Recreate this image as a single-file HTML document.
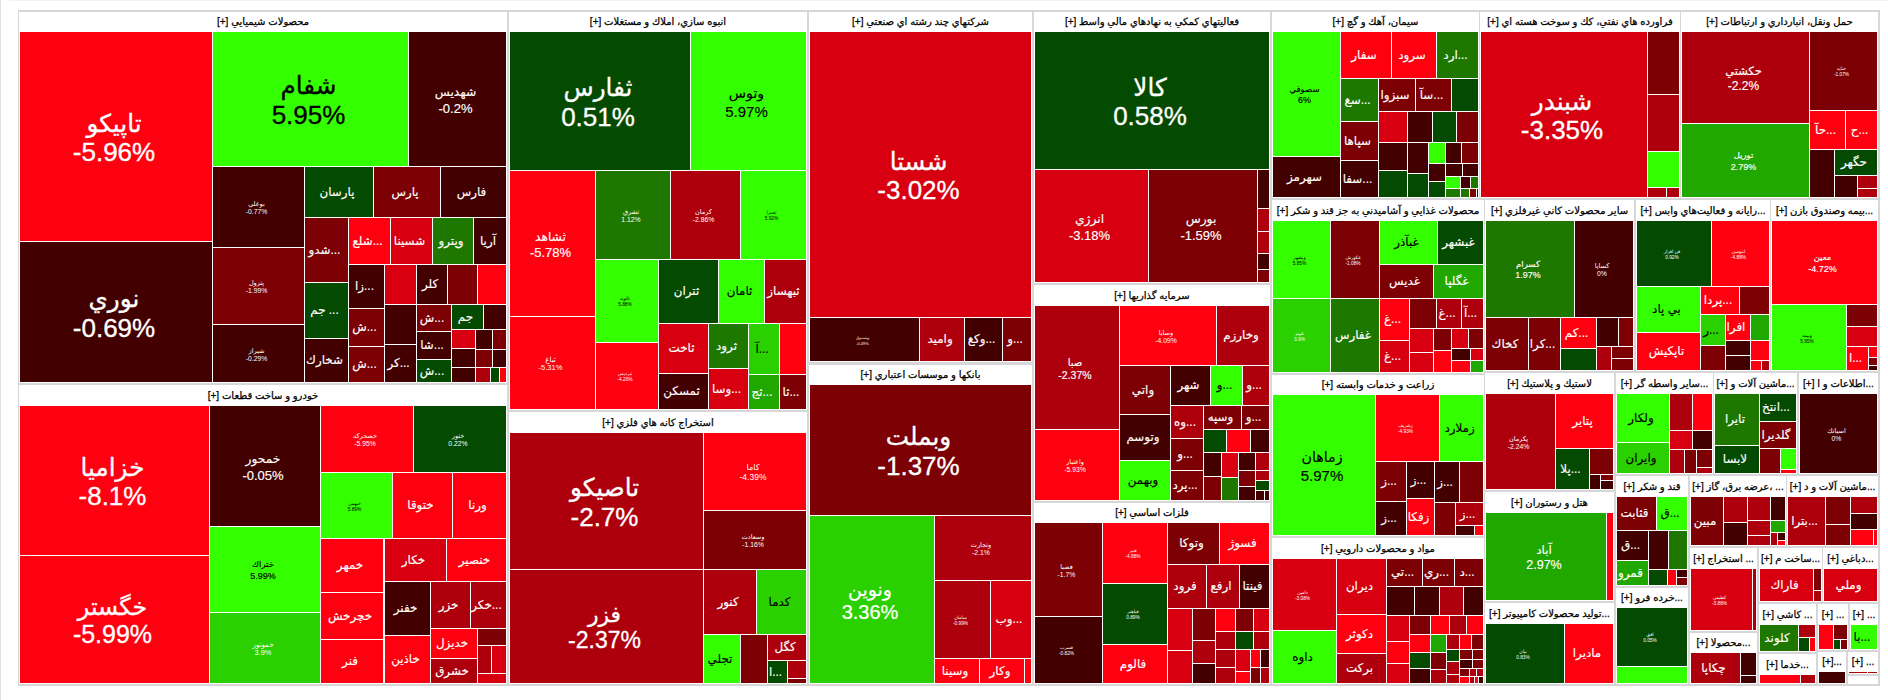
<!DOCTYPE html>
<html lang="fa"><head><meta charset="utf-8"><title>نقشه بازار</title>
<style>
html,body{margin:0;padding:0;background:#fff;}
body{width:1888px;height:700px;overflow:hidden;position:relative;font-family:"Liberation Sans","DejaVu Sans",sans-serif;}
#topbar{position:absolute;left:9px;top:0;width:1879px;height:1px;background:#eef3f9;}
#lbar{position:absolute;left:0;top:0;width:1px;height:700px;background:#e2e2e2;}
#frame{position:absolute;left:18px;top:10px;width:1862px;height:676px;background:#d7d7d7;}
.g{position:absolute;background:#fff;}
.h{position:absolute;height:20px;line-height:20px;text-align:center;direction:ltr;color:#000;-webkit-text-stroke:0.25px #000;white-space:nowrap;overflow:hidden;}
.c{position:absolute;display:flex;align-items:center;justify-content:center;text-align:center;overflow:hidden;line-height:1.15;white-space:nowrap;direction:ltr;}
.c span{display:inline-block;}
.c>div{margin-right:4px;}
.c>div.t2{margin-top:2px;}
.p{direction:ltr;}
</style></head><body>
<div id="topbar"></div><div id="lbar"></div><div id="frame"></div>

<div class="g" style="left:19px;top:12px;width:488px;height:371px"></div><div class="h" style="left:19px;top:12px;width:488px;height:20px;line-height:20px;font-size:10px">[+] محصولات شيميايي</div>
<div class="g" style="left:19px;top:385px;width:488px;height:299px"></div><div class="h" style="left:19px;top:385px;width:488px;height:21px;line-height:21px;font-size:10px">[+] خودرو و ساخت قطعات</div>
<div class="g" style="left:509px;top:12px;width:298px;height:398px"></div><div class="h" style="left:509px;top:12px;width:298px;height:20px;line-height:20px;font-size:10px">[+] انبوه سازي، املاك و مستغلات</div>
<div class="g" style="left:509px;top:412px;width:298px;height:272px"></div><div class="h" style="left:509px;top:412px;width:298px;height:21px;line-height:21px;font-size:10px">[+] استخراج كانه هاي فلزي</div>
<div class="g" style="left:809px;top:12px;width:223px;height:350px"></div><div class="h" style="left:809px;top:12px;width:223px;height:20px;line-height:20px;font-size:10px">[+] شركتهاي چند رشته اي صنعتي</div>
<div class="g" style="left:809px;top:365px;width:223px;height:319px"></div><div class="h" style="left:809px;top:365px;width:223px;height:20px;line-height:20px;font-size:10px">[+] بانكها و موسسات اعتباري</div>
<div class="g" style="left:1034px;top:12px;width:236px;height:271px"></div><div class="h" style="left:1034px;top:12px;width:236px;height:20px;line-height:20px;font-size:10px">[+] فعاليتهاي كمكي به نهادهاي مالي واسط</div>
<div class="g" style="left:1034px;top:285px;width:236px;height:216px"></div><div class="h" style="left:1034px;top:285px;width:236px;height:21px;line-height:21px;font-size:10px">[+] سرمايه گذاريها</div>
<div class="g" style="left:1034px;top:503px;width:236px;height:181px"></div><div class="h" style="left:1034px;top:503px;width:236px;height:20px;line-height:20px;font-size:10px">[+] فلزات اساسي</div>
<div class="g" style="left:1272px;top:12px;width:207px;height:186px"></div><div class="h" style="left:1272px;top:12px;width:207px;height:20px;line-height:20px;font-size:10px">[+] سيمان، آهك و گچ</div>
<div class="g" style="left:1480px;top:12px;width:200px;height:186px"></div><div class="h" style="left:1480px;top:12px;width:200px;height:20px;line-height:20px;font-size:10px">[+] فراورده هاي نفتي، كك و سوخت هسته اي</div>
<div class="g" style="left:1681px;top:12px;width:197px;height:186px"></div><div class="h" style="left:1681px;top:12px;width:197px;height:20px;line-height:20px;font-size:10px">[+] حمل ونقل، انبارداري و ارتباطات</div>
<div class="g" style="left:1272px;top:200px;width:212px;height:173px"></div><div class="h" style="left:1272px;top:200px;width:212px;height:21px;line-height:21px;font-size:10px">[+] محصولات غذايي و آشاميدني به جز قند و شكر</div>
<div class="g" style="left:1485px;top:200px;width:149px;height:171px"></div><div class="h" style="left:1485px;top:200px;width:149px;height:21px;line-height:21px;font-size:10px">[+] ساير محصولات كاني غيرفلزي</div>
<div class="g" style="left:1636px;top:200px;width:134px;height:171px"></div><div class="h" style="left:1636px;top:200px;width:134px;height:21px;line-height:21px;font-size:10px">[+] رايانه و فعاليت‌هاي وابس...</div>
<div class="g" style="left:1771px;top:200px;width:107px;height:171px"></div><div class="h" style="left:1771px;top:200px;width:107px;height:21px;line-height:21px;font-size:10px">[+] بيمه وصندوق بازن...</div>
<div class="g" style="left:1272px;top:375px;width:212px;height:161px"></div><div class="h" style="left:1272px;top:375px;width:212px;height:20px;line-height:20px;font-size:10px">[+] زراعت و خدمات وابسته</div>
<div class="g" style="left:1485px;top:373px;width:129px;height:117px"></div><div class="h" style="left:1485px;top:373px;width:129px;height:21px;line-height:21px;font-size:10px">[+] لاستيك و پلاستيك</div>
<div class="g" style="left:1616px;top:373px;width:97px;height:101px"></div><div class="h" style="left:1616px;top:373px;width:97px;height:21px;line-height:21px;font-size:10px">[+] ساير واسطه گر...</div>
<div class="g" style="left:1714px;top:373px;width:83px;height:101px"></div><div class="h" style="left:1714px;top:373px;width:83px;height:21px;line-height:21px;font-size:10px">[+] ماشين آلات و...</div>
<div class="g" style="left:1799px;top:373px;width:79px;height:101px"></div><div class="h" style="left:1799px;top:373px;width:79px;height:21px;line-height:21px;font-size:10px">[+] اطلاعات و ا...</div>
<div class="g" style="left:1272px;top:538px;width:212px;height:146px"></div><div class="h" style="left:1272px;top:538px;width:212px;height:21px;line-height:21px;font-size:10px">[+] مواد و محصولات دارويي</div>
<div class="g" style="left:1485px;top:492px;width:129px;height:109px"></div><div class="h" style="left:1485px;top:492px;width:129px;height:21px;line-height:21px;font-size:10px">[+] هتل و رستوران</div>
<div class="g" style="left:1616px;top:476px;width:72px;height:110px"></div><div class="h" style="left:1616px;top:476px;width:72px;height:21px;line-height:21px;font-size:10px">[+] قند و شكر</div>
<div class="g" style="left:1690px;top:476px;width:96px;height:70px"></div><div class="h" style="left:1690px;top:476px;width:96px;height:21px;line-height:21px;font-size:10px">[+] عرضه برق، گاز، ...</div>
<div class="g" style="left:1485px;top:603px;width:129px;height:81px"></div><div class="h" style="left:1485px;top:603px;width:129px;height:21px;line-height:21px;font-size:10px">[+] توليد محصولات كامپيوتر...</div>
<div class="g" style="left:1616px;top:588px;width:72px;height:96px"></div><div class="h" style="left:1616px;top:588px;width:72px;height:20px;line-height:20px;font-size:10px">[+] خرده فرو...</div>
<div class="g" style="left:1787px;top:476px;width:91px;height:70px"></div><div class="h" style="left:1787px;top:476px;width:91px;height:21px;line-height:21px;font-size:10px">[+] ماشين آلات و د...</div>
<div class="g" style="left:1690px;top:548px;width:67px;height:83px"></div><div class="h" style="left:1690px;top:548px;width:67px;height:21px;line-height:21px;font-size:10px">[+] استخراج ...</div>
<div class="g" style="left:1759px;top:548px;width:63px;height:54px"></div><div class="h" style="left:1759px;top:548px;width:63px;height:21px;line-height:21px;font-size:10px">[+] ساخت م...</div>
<div class="g" style="left:1823px;top:548px;width:55px;height:54px"></div><div class="h" style="left:1823px;top:548px;width:55px;height:21px;line-height:21px;font-size:10px">[+] دباغي...</div>
<div class="g" style="left:1759px;top:604px;width:57px;height:48px"></div><div class="h" style="left:1759px;top:604px;width:57px;height:21px;line-height:21px;font-size:10px">[+] كاشي ...</div>
<div class="g" style="left:1818px;top:604px;width:30px;height:46px"></div><div class="h" style="left:1818px;top:604px;width:30px;height:21px;line-height:21px;font-size:10px">[+] ...</div>
<div class="g" style="left:1850px;top:604px;width:28px;height:46px"></div><div class="h" style="left:1850px;top:604px;width:28px;height:21px;line-height:21px;font-size:10px">[+] ...</div>
<div class="g" style="left:1690px;top:633px;width:67px;height:51px"></div><div class="h" style="left:1690px;top:633px;width:67px;height:20px;line-height:20px;font-size:10px">[+] محصولا...</div>
<div class="g" style="left:1759px;top:654px;width:57px;height:30px"></div><div class="h" style="left:1759px;top:654px;width:57px;height:21px;line-height:21px;font-size:10px">[+] خدما...</div>
<div class="g" style="left:1818px;top:652px;width:28px;height:32px"></div><div class="h" style="left:1818px;top:652px;width:28px;height:20px;line-height:20px;font-size:10px">[+]...</div>
<div class="g" style="left:1848px;top:652px;width:30px;height:22px"></div><div class="h" style="left:1848px;top:652px;width:30px;height:20px;line-height:20px;font-size:10px">[+] ...</div>
<div class="g" style="left:1848px;top:676px;width:30px;height:8px"></div><div class="h" style="left:1848px;top:676px;width:30px;height:20px;line-height:20px;font-size:10px"></div>
<div class="c" style="left:20px;top:32px;width:192px;height:209px;background:#ff0010;font-size:26px;color:#fff;line-height:28.5px;-webkit-text-stroke:0.31px #fff;"><div class="t2"><span class="s" style="font-size:24.7px">تاپيكو</span><br><span class="p">-5.96%</span></div></div>
<div class="c" style="left:20px;top:242px;width:192px;height:140px;background:#420000;font-size:26px;color:#fff;line-height:28.5px;-webkit-text-stroke:0.31px #fff;"><div class="t2"><span class="s" style="font-size:24.7px">نوري</span><br><span class="p">-0.69%</span></div></div>
<div class="c" style="left:213px;top:32px;width:195px;height:134px;background:#33ff00;font-size:26px;color:#000;line-height:28.5px;-webkit-text-stroke:0.31px #000;"><div class="t2"><span class="s" style="font-size:24.7px">شفام</span><br><span class="p">5.95%</span></div></div>
<div class="c" style="left:409px;top:32px;width:97px;height:134px;background:#420000;font-size:13px;color:#fff;line-height:15.5px;-webkit-text-stroke:0.15px #fff;"><div class="t2"><span class="s" style="font-size:12.3px">شهديس</span><br><span class="p">-0.2%</span></div></div>
<div class="c" style="left:213px;top:167px;width:91px;height:80px;background:#420000;font-size:6.8px;color:#fff;line-height:7.8px;"><div class="t2"><span class="s" style="font-size:6.5px">بوعلي</span><br><span class="p">-0.77%</span></div></div>
<div class="c" style="left:213px;top:248px;width:91px;height:76px;background:#7c0004;font-size:6.8px;color:#fff;line-height:7.8px;"><div class="t2"><span class="s" style="font-size:6.5px">پترول</span><br><span class="p">-1.99%</span></div></div>
<div class="c" style="left:213px;top:325px;width:91px;height:57px;background:#420000;font-size:6.8px;color:#fff;line-height:7.8px;"><div class="t2"><span class="s" style="font-size:6.5px">شيراز</span><br><span class="p">-0.29%</span></div></div>
<div class="c" style="left:305px;top:167px;width:68px;height:50px;background:#044a00;font-size:12.5px;color:#fff;line-height:15.0px;-webkit-text-stroke:0.15px #fff;"><div><span class="s" style="font-size:11.9px">پارسان</span></div></div>
<div class="c" style="left:374px;top:167px;width:66px;height:50px;background:#7c0004;font-size:12.5px;color:#fff;line-height:15.0px;-webkit-text-stroke:0.15px #fff;"><div><span class="s" style="font-size:11.9px">پارس</span></div></div>
<div class="c" style="left:441px;top:167px;width:65px;height:50px;background:#420000;font-size:12.5px;color:#fff;line-height:15.0px;-webkit-text-stroke:0.15px #fff;"><div><span class="s" style="font-size:11.9px">فارس</span></div></div>
<div class="c" style="left:305px;top:218px;width:43px;height:64px;background:#7c0004;font-size:12.5px;color:#fff;line-height:15.0px;-webkit-text-stroke:0.15px #fff;"><div><span class="s" style="font-size:11.9px">شدو...</span></div></div>
<div class="c" style="left:305px;top:283px;width:43px;height:55px;background:#044a00;font-size:12.5px;color:#fff;line-height:15.0px;-webkit-text-stroke:0.15px #fff;"><div><span class="s" style="font-size:11.9px">جم ...</span></div></div>
<div class="c" style="left:305px;top:339px;width:43px;height:43px;background:#420000;font-size:12.5px;color:#fff;line-height:15.0px;-webkit-text-stroke:0.15px #fff;"><div><span class="s" style="font-size:11.9px">شخارك</span></div></div>
<div class="c" style="left:349px;top:218px;width:41px;height:46px;background:#ff0010;font-size:12.5px;color:#fff;line-height:15.0px;-webkit-text-stroke:0.15px #fff;"><div><span class="s" style="font-size:11.9px">شلع...</span></div></div>
<div class="c" style="left:391px;top:218px;width:41px;height:46px;background:#d80010;font-size:12.5px;color:#fff;line-height:15.0px;-webkit-text-stroke:0.15px #fff;"><div><span class="s" style="font-size:11.9px">شسينا</span></div></div>
<div class="c" style="left:433px;top:218px;width:40px;height:46px;background:#1e7800;font-size:12.5px;color:#fff;line-height:15.0px;-webkit-text-stroke:0.15px #fff;"><div><span class="s" style="font-size:11.9px">وپترو</span></div></div>
<div class="c" style="left:474px;top:218px;width:32px;height:46px;background:#420000;font-size:12.5px;color:#fff;line-height:15.0px;-webkit-text-stroke:0.15px #fff;"><div><span class="s" style="font-size:11.9px">آريا</span></div></div>
<div class="c" style="left:349px;top:265px;width:35px;height:43px;background:#420000;font-size:12.5px;color:#fff;line-height:15.0px;-webkit-text-stroke:0.15px #fff;"><div><span class="s" style="font-size:11.9px">زا...</span></div></div>
<div class="c" style="left:385px;top:265px;width:31px;height:39px;background:#d80010;"></div>
<div class="c" style="left:417px;top:265px;width:30px;height:39px;background:#420000;font-size:12.5px;color:#fff;line-height:15.0px;-webkit-text-stroke:0.15px #fff;"><div><span class="s" style="font-size:11.9px">كلر</span></div></div>
<div class="c" style="left:448px;top:265px;width:29px;height:39px;background:#7c0004;"></div>
<div class="c" style="left:478px;top:265px;width:28px;height:39px;background:#ff0010;"></div>
<div class="c" style="left:349px;top:309px;width:35px;height:37px;background:#7c0004;font-size:12.5px;color:#fff;line-height:15.0px;-webkit-text-stroke:0.15px #fff;"><div><span class="s" style="font-size:11.9px">ش...</span></div></div>
<div class="c" style="left:349px;top:347px;width:35px;height:35px;background:#7c0004;font-size:12.5px;color:#fff;line-height:15.0px;-webkit-text-stroke:0.15px #fff;"><div><span class="s" style="font-size:11.9px">ش...</span></div></div>
<div class="c" style="left:385px;top:305px;width:31px;height:39px;background:#420000;"></div>
<div class="c" style="left:385px;top:345px;width:31px;height:37px;background:#420000;font-size:12.5px;color:#fff;line-height:15.0px;-webkit-text-stroke:0.15px #fff;"><div><span class="s" style="font-size:11.9px">كر...</span></div></div>
<div class="c" style="left:417px;top:305px;width:34px;height:26px;background:#7c0004;font-size:12.5px;color:#fff;line-height:15.0px;-webkit-text-stroke:0.15px #fff;"><div><span class="s" style="font-size:11.9px">ش...</span></div></div>
<div class="c" style="left:417px;top:332px;width:34px;height:27px;background:#420000;font-size:12.5px;color:#fff;line-height:15.0px;-webkit-text-stroke:0.15px #fff;"><div><span class="s" style="font-size:11.9px">شا...</span></div></div>
<div class="c" style="left:417px;top:360px;width:34px;height:22px;background:#044a00;font-size:12.5px;color:#fff;line-height:15.0px;-webkit-text-stroke:0.15px #fff;"><div><span class="s" style="font-size:11.9px">ش...</span></div></div>
<div class="c" style="left:452px;top:305px;width:31px;height:24px;background:#044a00;font-size:12.5px;color:#fff;line-height:15.0px;-webkit-text-stroke:0.15px #fff;"><div><span class="s" style="font-size:11.9px">جم</span></div></div>
<div class="c" style="left:484px;top:305px;width:22px;height:24px;background:#420000;"></div>
<div class="c" style="left:452px;top:330px;width:23px;height:18px;background:#d80010;"></div>
<div class="c" style="left:476px;top:330px;width:16px;height:19px;background:#420000;"></div>
<div class="c" style="left:493px;top:330px;width:13px;height:19px;background:#7c0004;"></div>
<div class="c" style="left:452px;top:349px;width:23px;height:18px;background:#420000;"></div>
<div class="c" style="left:476px;top:350px;width:16px;height:17px;background:#7c0004;"></div>
<div class="c" style="left:493px;top:350px;width:13px;height:17px;background:#420000;"></div>
<div class="c" style="left:452px;top:368px;width:23px;height:14px;background:#420000;"></div>
<div class="c" style="left:476px;top:368px;width:14px;height:14px;background:#ae000c;"></div>
<div class="c" style="left:491px;top:368px;width:8px;height:14px;background:#044a00;"></div>
<div class="c" style="left:500px;top:368px;width:6px;height:14px;background:#ff0010;"></div>
<div class="c" style="left:20px;top:406px;width:189px;height:149px;background:#ff0010;font-size:26px;color:#fff;line-height:28.5px;-webkit-text-stroke:0.31px #fff;"><div class="t2"><span class="s" style="font-size:24.7px">خزاميا</span><br><span class="p">-8.1%</span></div></div>
<div class="c" style="left:20px;top:556px;width:189px;height:127px;background:#ff0010;font-size:25px;color:#fff;line-height:27.5px;-webkit-text-stroke:0.30px #fff;"><div class="t2"><span class="s" style="font-size:23.8px">خگستر</span><br><span class="p">-5.99%</span></div></div>
<div class="c" style="left:210px;top:406px;width:110px;height:120px;background:#420000;font-size:13px;color:#fff;line-height:15.5px;-webkit-text-stroke:0.15px #fff;"><div class="t2"><span class="s" style="font-size:12.3px">خمحور</span><br><span class="p">-0.05%</span></div></div>
<div class="c" style="left:210px;top:527px;width:110px;height:85px;background:#33ff00;font-size:9px;color:#000;line-height:11.5px;-webkit-text-stroke:0.15px #000;"><div class="t2"><span class="s" style="font-size:8.5px">ختراك</span><br><span class="p">5.99%</span></div></div>
<div class="c" style="left:210px;top:613px;width:110px;height:70px;background:#2ad000;font-size:7.4px;color:#fff;line-height:8.4px;"><div class="t2"><span class="s" style="font-size:7.0px">خموتور</span><br><span class="p">3.9%</span></div></div>
<div class="c" style="left:321px;top:406px;width:92px;height:66px;background:#ff0010;font-size:6.8px;color:#fff;line-height:7.8px;"><div class="t2"><span class="s" style="font-size:6.5px">خصحركه</span><br><span class="p">-5.95%</span></div></div>
<div class="c" style="left:414px;top:406px;width:92px;height:66px;background:#044a00;font-size:6.8px;color:#fff;line-height:7.8px;"><div class="t2"><span class="s" style="font-size:6.5px">ختور</span><br><span class="p">0.22%</span></div></div>
<div class="c" style="left:321px;top:473px;width:71px;height:65px;background:#33ff00;font-size:4.8px;color:#000;line-height:5.8px;"><div class="t2"><span class="s" style="font-size:4.6px">خبهمن</span><br><span class="p">5.89%</span></div></div>
<div class="c" style="left:393px;top:473px;width:59px;height:65px;background:#ff0010;font-size:12.5px;color:#fff;line-height:15.0px;-webkit-text-stroke:0.15px #fff;"><div><span class="s" style="font-size:11.9px">ختوقا</span></div></div>
<div class="c" style="left:453px;top:473px;width:53px;height:65px;background:#ff0010;font-size:12.5px;color:#fff;line-height:15.0px;-webkit-text-stroke:0.15px #fff;"><div><span class="s" style="font-size:11.9px">ورنا</span></div></div>
<div class="c" style="left:321px;top:539px;width:62px;height:53px;background:#ff0010;font-size:12.5px;color:#fff;line-height:15.0px;-webkit-text-stroke:0.15px #fff;"><div><span class="s" style="font-size:11.9px">خمهر</span></div></div>
<div class="c" style="left:321px;top:593px;width:62px;height:46px;background:#ff0010;font-size:12.5px;color:#fff;line-height:15.0px;-webkit-text-stroke:0.15px #fff;"><div><span class="s" style="font-size:11.9px">خچرخش</span></div></div>
<div class="c" style="left:321px;top:640px;width:62px;height:43px;background:#ff0010;font-size:12.5px;color:#fff;line-height:15.0px;-webkit-text-stroke:0.15px #fff;"><div><span class="s" style="font-size:11.9px">فنر</span></div></div>
<div class="c" style="left:385px;top:539px;width:61px;height:42px;background:#d80010;font-size:12.5px;color:#fff;line-height:15.0px;-webkit-text-stroke:0.15px #fff;"><div><span class="s" style="font-size:11.9px">خكار</span></div></div>
<div class="c" style="left:447px;top:539px;width:59px;height:42px;background:#ff0010;font-size:12.5px;color:#fff;line-height:15.0px;-webkit-text-stroke:0.15px #fff;"><div><span class="s" style="font-size:11.9px">خنصير</span></div></div>
<div class="c" style="left:385px;top:582px;width:45px;height:53px;background:#420000;font-size:12.5px;color:#fff;line-height:15.0px;-webkit-text-stroke:0.15px #fff;"><div><span class="s" style="font-size:11.9px">خفنر</span></div></div>
<div class="c" style="left:385px;top:636px;width:45px;height:47px;background:#ff0010;font-size:12.5px;color:#fff;line-height:15.0px;-webkit-text-stroke:0.15px #fff;"><div><span class="s" style="font-size:11.9px">خاذين</span></div></div>
<div class="c" style="left:431px;top:582px;width:39px;height:46px;background:#ae000c;font-size:12.5px;color:#fff;line-height:15.0px;-webkit-text-stroke:0.15px #fff;"><div><span class="s" style="font-size:11.9px">خزر</span></div></div>
<div class="c" style="left:471px;top:582px;width:35px;height:46px;background:#ae000c;font-size:12.5px;color:#fff;line-height:15.0px;-webkit-text-stroke:0.15px #fff;"><div><span class="s" style="font-size:11.9px">خكر...</span></div></div>
<div class="c" style="left:431px;top:629px;width:46px;height:29px;background:#ff0010;font-size:12.5px;color:#fff;line-height:15.0px;-webkit-text-stroke:0.15px #fff;"><div><span class="s" style="font-size:11.9px">خديزل</span></div></div>
<div class="c" style="left:431px;top:659px;width:46px;height:24px;background:#ae000c;font-size:12.5px;color:#fff;line-height:15.0px;-webkit-text-stroke:0.15px #fff;"><div><span class="s" style="font-size:11.9px">خشرق</span></div></div>
<div class="c" style="left:478px;top:629px;width:28px;height:16px;background:#7c0004;"></div>
<div class="c" style="left:478px;top:646px;width:13px;height:27px;background:#ae000c;"></div>
<div class="c" style="left:492px;top:646px;width:14px;height:27px;background:#d80010;"></div>
<div class="c" style="left:478px;top:674px;width:28px;height:9px;background:#d80010;"></div>
<div class="c" style="left:510px;top:32px;width:180px;height:138px;background:#044a00;font-size:26px;color:#fff;line-height:28.5px;-webkit-text-stroke:0.31px #fff;"><div class="t2"><span class="s" style="font-size:24.7px">ثفارس</span><br><span class="p">0.51%</span></div></div>
<div class="c" style="left:691px;top:32px;width:115px;height:138px;background:#33ff00;font-size:15px;color:#000;line-height:17.5px;-webkit-text-stroke:0.15px #000;"><div class="t2"><span class="s" style="font-size:14.2px">وتوس</span><br><span class="p">5.97%</span></div></div>
<div class="c" style="left:510px;top:171px;width:85px;height:145px;background:#ff0010;font-size:13px;color:#fff;line-height:15.5px;-webkit-text-stroke:0.15px #fff;"><div class="t2"><span class="s" style="font-size:12.3px">ثشاهد</span><br><span class="p">-5.78%</span></div></div>
<div class="c" style="left:510px;top:317px;width:85px;height:92px;background:#ff0010;font-size:7.5px;color:#fff;line-height:8.5px;"><div class="t2"><span class="s" style="font-size:7.1px">ثباغ</span><br><span class="p">-5.31%</span></div></div>
<div class="c" style="left:596px;top:171px;width:74px;height:88px;background:#1e7800;font-size:6.8px;color:#fff;line-height:7.8px;"><div class="t2"><span class="s" style="font-size:6.5px">تشرق</span><br><span class="p">1.12%</span></div></div>
<div class="c" style="left:671px;top:171px;width:69px;height:88px;background:#ae000c;font-size:6.8px;color:#fff;line-height:7.8px;"><div class="t2"><span class="s" style="font-size:6.5px">كرمان</span><br><span class="p">-2.86%</span></div></div>
<div class="c" style="left:741px;top:171px;width:65px;height:88px;background:#33ff00;font-size:4.8px;color:#000;line-height:5.8px;"><div class="t2"><span class="s" style="font-size:4.6px">ثعمرا</span><br><span class="p">5.92%</span></div></div>
<div class="c" style="left:596px;top:260px;width:62px;height:82px;background:#33ff00;font-size:4.8px;color:#000;line-height:5.8px;"><div class="t2"><span class="s" style="font-size:4.6px">ثالوند</span><br><span class="p">5.88%</span></div></div>
<div class="c" style="left:596px;top:343px;width:62px;height:66px;background:#ff0010;font-size:4.8px;color:#fff;line-height:5.8px;"><div class="t2"><span class="s" style="font-size:4.6px">ثپرديس</span><br><span class="p">-4.26%</span></div></div>
<div class="c" style="left:659px;top:260px;width:59px;height:63px;background:#044a00;font-size:12.5px;color:#fff;line-height:15.0px;-webkit-text-stroke:0.15px #fff;"><div><span class="s" style="font-size:11.9px">ثتران</span></div></div>
<div class="c" style="left:719px;top:260px;width:45px;height:63px;background:#33ff00;font-size:12.5px;color:#000;line-height:15.0px;-webkit-text-stroke:0.15px #000;"><div><span class="s" style="font-size:11.9px">ثامان</span></div></div>
<div class="c" style="left:765px;top:260px;width:41px;height:63px;background:#ae000c;font-size:12.5px;color:#fff;line-height:15.0px;-webkit-text-stroke:0.15px #fff;"><div><span class="s" style="font-size:11.9px">ثبهساز</span></div></div>
<div class="c" style="left:659px;top:324px;width:49px;height:49px;background:#d80010;font-size:12.5px;color:#fff;line-height:15.0px;-webkit-text-stroke:0.15px #fff;"><div><span class="s" style="font-size:11.9px">ثاخت</span></div></div>
<div class="c" style="left:659px;top:374px;width:49px;height:35px;background:#420000;font-size:12.5px;color:#fff;line-height:15.0px;-webkit-text-stroke:0.15px #fff;"><div><span class="s" style="font-size:11.9px">ثمسكن</span></div></div>
<div class="c" style="left:709px;top:324px;width:39px;height:44px;background:#1e7800;font-size:12.5px;color:#fff;line-height:15.0px;-webkit-text-stroke:0.15px #fff;"><div><span class="s" style="font-size:11.9px">ثرود</span></div></div>
<div class="c" style="left:709px;top:369px;width:39px;height:40px;background:#d80010;font-size:12.5px;color:#fff;line-height:15.0px;-webkit-text-stroke:0.15px #fff;"><div><span class="s" style="font-size:11.9px">وسا...</span></div></div>
<div class="c" style="left:749px;top:324px;width:30px;height:50px;background:#2ad000;font-size:12.5px;color:#000;line-height:15.0px;-webkit-text-stroke:0.15px #000;"><div><span class="s" style="font-size:11.9px">آ...</span></div></div>
<div class="c" style="left:749px;top:375px;width:30px;height:34px;background:#20a800;font-size:12.5px;color:#fff;line-height:15.0px;-webkit-text-stroke:0.15px #fff;"><div><span class="s" style="font-size:11.9px">ثج...</span></div></div>
<div class="c" style="left:780px;top:324px;width:26px;height:50px;background:#ff0010;"></div>
<div class="c" style="left:780px;top:375px;width:26px;height:34px;background:#7c0004;font-size:12.5px;color:#fff;line-height:15.0px;-webkit-text-stroke:0.15px #fff;"><div><span class="s" style="font-size:11.9px">ثا...</span></div></div>
<div class="c" style="left:510px;top:433px;width:193px;height:136px;background:#ae000c;font-size:26px;color:#fff;line-height:28.5px;-webkit-text-stroke:0.31px #fff;"><div class="t2"><span class="s" style="font-size:24.7px">تاصيكو</span><br><span class="p">-2.7%</span></div></div>
<div class="c" style="left:510px;top:570px;width:193px;height:113px;background:#ae000c;font-size:23px;color:#fff;line-height:25.5px;-webkit-text-stroke:0.28px #fff;"><div class="t2"><span class="s" style="font-size:21.8px">فزر</span><br><span class="p">-2.37%</span></div></div>
<div class="c" style="left:704px;top:433px;width:102px;height:77px;background:#ff0010;font-size:8.5px;color:#fff;line-height:9.5px;"><div class="t2"><span class="s" style="font-size:8.1px">كاما</span><br><span class="p">-4.39%</span></div></div>
<div class="c" style="left:704px;top:511px;width:102px;height:58px;background:#7c0004;font-size:6.8px;color:#fff;line-height:7.8px;"><div class="t2"><span class="s" style="font-size:6.5px">وسعادت</span><br><span class="p">-1.16%</span></div></div>
<div class="c" style="left:704px;top:570px;width:52px;height:64px;background:#ae000c;font-size:12.5px;color:#fff;line-height:15.0px;-webkit-text-stroke:0.15px #fff;"><div><span class="s" style="font-size:11.9px">كنور</span></div></div>
<div class="c" style="left:757px;top:570px;width:49px;height:64px;background:#2ad000;font-size:12.5px;color:#000;line-height:15.0px;-webkit-text-stroke:0.15px #000;"><div><span class="s" style="font-size:11.9px">كدما</span></div></div>
<div class="c" style="left:704px;top:635px;width:36px;height:48px;background:#33ff00;font-size:12.5px;color:#000;line-height:15.0px;-webkit-text-stroke:0.15px #000;"><div><span class="s" style="font-size:11.9px">تجلي</span></div></div>
<div class="c" style="left:741px;top:635px;width:26px;height:48px;background:#7c0004;"></div>
<div class="c" style="left:768px;top:635px;width:38px;height:25px;background:#ae000c;font-size:12.5px;color:#fff;line-height:15.0px;-webkit-text-stroke:0.15px #fff;"><div><span class="s" style="font-size:11.9px">كگل</span></div></div>
<div class="c" style="left:768px;top:661px;width:19px;height:22px;background:#044a00;font-size:12.5px;color:#fff;line-height:15.0px;-webkit-text-stroke:0.15px #fff;"><div><span class="s" style="font-size:11.9px">ا...</span></div></div>
<div class="c" style="left:788px;top:661px;width:18px;height:17px;background:#ae000c;"></div>
<div class="c" style="left:788px;top:679px;width:18px;height:4px;background:#7c0004;"></div>
<div class="c" style="left:810px;top:32px;width:221px;height:285px;background:#d80010;font-size:26px;color:#fff;line-height:28.5px;-webkit-text-stroke:0.31px #fff;"><div class="t2"><span class="s" style="font-size:24.7px">شستا</span><br><span class="p">-3.02%</span></div></div>
<div class="c" style="left:810px;top:318px;width:109px;height:43px;background:#420000;font-size:4px;color:#fff;line-height:5.0px;"><div class="t2"><span class="s" style="font-size:3.8px">وصندوق</span><br><span class="p">-0.49%</span></div></div>
<div class="c" style="left:920px;top:318px;width:44px;height:43px;background:#ae000c;font-size:12.5px;color:#fff;line-height:15.0px;-webkit-text-stroke:0.15px #fff;"><div><span class="s" style="font-size:11.9px">واميد</span></div></div>
<div class="c" style="left:965px;top:318px;width:37px;height:43px;background:#420000;font-size:12.5px;color:#fff;line-height:15.0px;-webkit-text-stroke:0.15px #fff;"><div><span class="s" style="font-size:11.9px">وكغ...</span></div></div>
<div class="c" style="left:1003px;top:318px;width:28px;height:43px;background:#7c0004;font-size:12.5px;color:#fff;line-height:15.0px;-webkit-text-stroke:0.15px #fff;"><div><span class="s" style="font-size:11.9px">و...</span></div></div>
<div class="c" style="left:810px;top:385px;width:221px;height:130px;background:#7c0004;font-size:26px;color:#fff;line-height:28.5px;-webkit-text-stroke:0.31px #fff;"><div class="t2"><span class="s" style="font-size:24.7px">وبملت</span><br><span class="p">-1.37%</span></div></div>
<div class="c" style="left:810px;top:516px;width:124px;height:167px;background:#2ad000;font-size:20px;color:#fff;line-height:22.5px;-webkit-text-stroke:0.24px #fff;"><div class="t2"><span class="s" style="font-size:19.0px">ونوين</span><br><span class="p">3.36%</span></div></div>
<div class="c" style="left:935px;top:516px;width:96px;height:64px;background:#ae000c;font-size:6.8px;color:#fff;line-height:7.8px;"><div class="t2"><span class="s" style="font-size:6.5px">وتجارت</span><br><span class="p">-2.1%</span></div></div>
<div class="c" style="left:935px;top:581px;width:55px;height:77px;background:#ae000c;font-size:4.8px;color:#fff;line-height:5.8px;"><div class="t2"><span class="s" style="font-size:4.6px">سامان</span><br><span class="p">-0.99%</span></div></div>
<div class="c" style="left:991px;top:581px;width:40px;height:77px;background:#d80010;font-size:12.5px;color:#fff;line-height:15.0px;-webkit-text-stroke:0.15px #fff;"><div><span class="s" style="font-size:11.9px">وب...</span></div></div>
<div class="c" style="left:935px;top:659px;width:44px;height:24px;background:#ff0010;font-size:12.5px;color:#fff;line-height:15.0px;-webkit-text-stroke:0.15px #fff;"><div><span class="s" style="font-size:11.9px">وسينا</span></div></div>
<div class="c" style="left:980px;top:659px;width:44px;height:24px;background:#ff0010;font-size:12.5px;color:#fff;line-height:15.0px;-webkit-text-stroke:0.15px #fff;"><div><span class="s" style="font-size:11.9px">وكار</span></div></div>
<div class="c" style="left:1025px;top:659px;width:6px;height:24px;background:#ff0010;"></div>
<div class="c" style="left:1035px;top:32px;width:234px;height:137px;background:#044a00;font-size:26px;color:#fff;line-height:28.5px;-webkit-text-stroke:0.31px #fff;"><div class="t2"><span class="s" style="font-size:24.7px">كالا</span><br><span class="p">0.58%</span></div></div>
<div class="c" style="left:1035px;top:170px;width:113px;height:112px;background:#d80010;font-size:13px;color:#fff;line-height:15.5px;-webkit-text-stroke:0.15px #fff;"><div class="t2"><span class="s" style="font-size:12.3px">انرژي</span><br><span class="p">-3.18%</span></div></div>
<div class="c" style="left:1149px;top:170px;width:108px;height:112px;background:#7c0004;font-size:13px;color:#fff;line-height:15.5px;-webkit-text-stroke:0.15px #fff;"><div class="t2"><span class="s" style="font-size:12.3px">بورس</span><br><span class="p">-1.59%</span></div></div>
<div class="c" style="left:1258px;top:170px;width:11px;height:38px;background:#420000;"></div>
<div class="c" style="left:1258px;top:209px;width:11px;height:22px;background:#ae000c;"></div>
<div class="c" style="left:1258px;top:232px;width:11px;height:21px;background:#ae000c;"></div>
<div class="c" style="left:1258px;top:254px;width:11px;height:15px;background:#420000;"></div>
<div class="c" style="left:1258px;top:270px;width:11px;height:12px;background:#7c0004;"></div>
<div class="c" style="left:1035px;top:306px;width:84px;height:123px;background:#ae000c;font-size:10.5px;color:#fff;line-height:13.0px;-webkit-text-stroke:0.15px #fff;"><div class="t2"><span class="s" style="font-size:10.0px">صبا</span><br><span class="p">-2.37%</span></div></div>
<div class="c" style="left:1035px;top:430px;width:84px;height:70px;background:#ff0010;font-size:6.8px;color:#fff;line-height:7.8px;"><div class="t2"><span class="s" style="font-size:6.5px">واعتبار</span><br><span class="p">-5.93%</span></div></div>
<div class="c" style="left:1120px;top:306px;width:96px;height:59px;background:#ff0010;font-size:6.8px;color:#fff;line-height:7.8px;"><div class="t2"><span class="s" style="font-size:6.5px">وسايا</span><br><span class="p">-4.09%</span></div></div>
<div class="c" style="left:1217px;top:306px;width:52px;height:59px;background:#ae000c;font-size:12.5px;color:#fff;line-height:15.0px;-webkit-text-stroke:0.15px #fff;"><div><span class="s" style="font-size:11.9px">وخارزم</span></div></div>
<div class="c" style="left:1120px;top:366px;width:50px;height:48px;background:#7c0004;font-size:12.5px;color:#fff;line-height:15.0px;-webkit-text-stroke:0.15px #fff;"><div><span class="s" style="font-size:11.9px">واتي</span></div></div>
<div class="c" style="left:1120px;top:415px;width:50px;height:45px;background:#420000;font-size:12.5px;color:#fff;line-height:15.0px;-webkit-text-stroke:0.15px #fff;"><div><span class="s" style="font-size:11.9px">وتوسم</span></div></div>
<div class="c" style="left:1120px;top:461px;width:50px;height:39px;background:#33ff00;font-size:12.5px;color:#000;line-height:15.0px;-webkit-text-stroke:0.15px #000;"><div><span class="s" style="font-size:11.9px">وبهمن</span></div></div>
<div class="c" style="left:1171px;top:366px;width:39px;height:39px;background:#420000;font-size:12.5px;color:#fff;line-height:15.0px;-webkit-text-stroke:0.15px #fff;"><div><span class="s" style="font-size:11.9px">شهر</span></div></div>
<div class="c" style="left:1211px;top:366px;width:31px;height:39px;background:#33ff00;font-size:12.5px;color:#000;line-height:15.0px;-webkit-text-stroke:0.15px #000;"><div><span class="s" style="font-size:11.9px">و...</span></div></div>
<div class="c" style="left:1243px;top:366px;width:26px;height:39px;background:#ae000c;font-size:12.5px;color:#fff;line-height:15.0px;-webkit-text-stroke:0.15px #fff;"><div><span class="s" style="font-size:11.9px">و...</span></div></div>
<div class="c" style="left:1171px;top:406px;width:32px;height:32px;background:#ae000c;font-size:12.5px;color:#fff;line-height:15.0px;-webkit-text-stroke:0.15px #fff;"><div><span class="s" style="font-size:11.9px">وه...</span></div></div>
<div class="c" style="left:1204px;top:406px;width:37px;height:23px;background:#7c0004;font-size:12.5px;color:#fff;line-height:15.0px;-webkit-text-stroke:0.15px #fff;"><div><span class="s" style="font-size:11.9px">وسپه</span></div></div>
<div class="c" style="left:1242px;top:406px;width:27px;height:23px;background:#7c0004;font-size:12.5px;color:#fff;line-height:15.0px;-webkit-text-stroke:0.15px #fff;"><div><span class="s" style="font-size:11.9px">و...</span></div></div>
<div class="c" style="left:1171px;top:439px;width:32px;height:31px;background:#7c0004;font-size:12.5px;color:#fff;line-height:15.0px;-webkit-text-stroke:0.15px #fff;"><div><span class="s" style="font-size:11.9px">و...</span></div></div>
<div class="c" style="left:1171px;top:471px;width:32px;height:29px;background:#7c0004;font-size:12.5px;color:#fff;line-height:15.0px;-webkit-text-stroke:0.15px #fff;"><div><span class="s" style="font-size:11.9px">پرد...</span></div></div>
<div class="c" style="left:1204px;top:430px;width:22px;height:22px;background:#044a00;"></div>
<div class="c" style="left:1227px;top:430px;width:23px;height:22px;background:#ff0010;"></div>
<div class="c" style="left:1251px;top:430px;width:18px;height:22px;background:#420000;"></div>
<div class="c" style="left:1204px;top:453px;width:17px;height:23px;background:#420000;"></div>
<div class="c" style="left:1204px;top:477px;width:17px;height:23px;background:#7c0004;"></div>
<div class="c" style="left:1222px;top:453px;width:16px;height:24px;background:#d80010;"></div>
<div class="c" style="left:1222px;top:478px;width:16px;height:22px;background:#1e7800;"></div>
<div class="c" style="left:1239px;top:453px;width:16px;height:17px;background:#420000;"></div>
<div class="c" style="left:1239px;top:471px;width:16px;height:15px;background:#7c0004;"></div>
<div class="c" style="left:1239px;top:487px;width:16px;height:13px;background:#420000;"></div>
<div class="c" style="left:1256px;top:453px;width:13px;height:17px;background:#ae000c;"></div>
<div class="c" style="left:1256px;top:471px;width:13px;height:9px;background:#ae000c;"></div>
<div class="c" style="left:1256px;top:481px;width:13px;height:9px;background:#044a00;"></div>
<div class="c" style="left:1256px;top:491px;width:8px;height:9px;background:#420000;"></div>
<div class="c" style="left:1265px;top:491px;width:4px;height:9px;background:#420000;"></div>
<div class="c" style="left:1035px;top:523px;width:67px;height:93px;background:#7c0004;font-size:6.8px;color:#fff;line-height:7.8px;"><div class="t2"><span class="s" style="font-size:6.5px">فصبا</span><br><span class="p">-1.7%</span></div></div>
<div class="c" style="left:1035px;top:617px;width:67px;height:66px;background:#420000;font-size:4.8px;color:#fff;line-height:5.8px;"><div class="t2"><span class="s" style="font-size:4.6px">فسرب</span><br><span class="p">-0.82%</span></div></div>
<div class="c" style="left:1103px;top:523px;width:64px;height:60px;background:#ff0010;font-size:4.8px;color:#fff;line-height:5.8px;"><div class="t2"><span class="s" style="font-size:4.6px">فنير</span><br><span class="p">-4.88%</span></div></div>
<div class="c" style="left:1103px;top:584px;width:64px;height:60px;background:#044a00;font-size:4.8px;color:#fff;line-height:5.8px;"><div class="t2"><span class="s" style="font-size:4.6px">فباهنر</span><br><span class="p">0.89%</span></div></div>
<div class="c" style="left:1103px;top:645px;width:64px;height:38px;background:#ff0010;font-size:12.5px;color:#fff;line-height:15.0px;-webkit-text-stroke:0.15px #fff;"><div><span class="s" style="font-size:11.9px">فالوم</span></div></div>
<div class="c" style="left:1168px;top:523px;width:51px;height:41px;background:#7c0004;font-size:12.5px;color:#fff;line-height:15.0px;-webkit-text-stroke:0.15px #fff;"><div><span class="s" style="font-size:11.9px">وتوكا</span></div></div>
<div class="c" style="left:1220px;top:523px;width:49px;height:41px;background:#ff0010;font-size:12.5px;color:#fff;line-height:15.0px;-webkit-text-stroke:0.15px #fff;"><div><span class="s" style="font-size:11.9px">فسوژ</span></div></div>
<div class="c" style="left:1168px;top:565px;width:38px;height:43px;background:#ae000c;font-size:12.5px;color:#fff;line-height:15.0px;-webkit-text-stroke:0.15px #fff;"><div><span class="s" style="font-size:11.9px">فرود</span></div></div>
<div class="c" style="left:1207px;top:565px;width:32px;height:43px;background:#ae000c;font-size:12.5px;color:#fff;line-height:15.0px;-webkit-text-stroke:0.15px #fff;"><div><span class="s" style="font-size:11.9px">ارفع</span></div></div>
<div class="c" style="left:1240px;top:565px;width:29px;height:43px;background:#420000;font-size:12.5px;color:#fff;line-height:15.0px;-webkit-text-stroke:0.15px #fff;"><div><span class="s" style="font-size:11.9px">فينتا</span></div></div>
<div class="c" style="left:1168px;top:609px;width:24px;height:41px;background:#d80010;"></div>
<div class="c" style="left:1168px;top:651px;width:24px;height:32px;background:#d80010;"></div>
<div class="c" style="left:1193px;top:609px;width:22px;height:31px;background:#7c0004;"></div>
<div class="c" style="left:1193px;top:641px;width:22px;height:22px;background:#ae000c;"></div>
<div class="c" style="left:1193px;top:664px;width:22px;height:19px;background:#420000;"></div>
<div class="c" style="left:1216px;top:609px;width:19px;height:22px;background:#ff0010;"></div>
<div class="c" style="left:1216px;top:632px;width:19px;height:17px;background:#ae000c;"></div>
<div class="c" style="left:1216px;top:650px;width:19px;height:17px;background:#ae000c;"></div>
<div class="c" style="left:1216px;top:668px;width:19px;height:15px;background:#ae000c;"></div>
<div class="c" style="left:1236px;top:609px;width:17px;height:22px;background:#7c0004;"></div>
<div class="c" style="left:1236px;top:632px;width:17px;height:17px;background:#044a00;"></div>
<div class="c" style="left:1254px;top:609px;width:15px;height:22px;background:#d80010;"></div>
<div class="c" style="left:1254px;top:632px;width:15px;height:17px;background:#ae000c;"></div>
<div class="c" style="left:1236px;top:650px;width:14px;height:21px;background:#d80010;"></div>
<div class="c" style="left:1236px;top:672px;width:14px;height:11px;background:#ff0010;"></div>
<div class="c" style="left:1251px;top:650px;width:9px;height:17px;background:#ff0010;"></div>
<div class="c" style="left:1251px;top:668px;width:9px;height:15px;background:#7c0004;"></div>
<div class="c" style="left:1261px;top:650px;width:8px;height:17px;background:#420000;"></div>
<div class="c" style="left:1261px;top:668px;width:8px;height:15px;background:#ae000c;"></div>
<div class="c" style="left:1273px;top:32px;width:67px;height:124px;background:#33ff00;font-size:9px;color:#000;line-height:11.5px;-webkit-text-stroke:0.15px #000;"><div class="t2"><span class="s" style="font-size:8.5px">سصوفي</span><br><span class="p">6%</span></div></div>
<div class="c" style="left:1273px;top:157px;width:67px;height:40px;background:#420000;font-size:12.5px;color:#fff;line-height:15.0px;-webkit-text-stroke:0.15px #fff;"><div><span class="s" style="font-size:11.9px">سهرمز</span></div></div>
<div class="c" style="left:1341px;top:32px;width:50px;height:46px;background:#ff0010;font-size:12.5px;color:#fff;line-height:15.0px;-webkit-text-stroke:0.15px #fff;"><div><span class="s" style="font-size:11.9px">سفار</span></div></div>
<div class="c" style="left:1392px;top:32px;width:44px;height:46px;background:#ff0010;font-size:12.5px;color:#fff;line-height:15.0px;-webkit-text-stroke:0.15px #fff;"><div><span class="s" style="font-size:11.9px">سرود</span></div></div>
<div class="c" style="left:1437px;top:32px;width:41px;height:46px;background:#1e7800;font-size:12.5px;color:#fff;line-height:15.0px;-webkit-text-stroke:0.15px #fff;"><div><span class="s" style="font-size:11.9px">ارد...</span></div></div>
<div class="c" style="left:1341px;top:79px;width:37px;height:42px;background:#1e7800;font-size:12.5px;color:#fff;line-height:15.0px;-webkit-text-stroke:0.15px #fff;"><div><span class="s" style="font-size:11.9px">سغ...</span></div></div>
<div class="c" style="left:1341px;top:122px;width:37px;height:38px;background:#7c0004;font-size:12.5px;color:#fff;line-height:15.0px;-webkit-text-stroke:0.15px #fff;"><div><span class="s" style="font-size:11.9px">سپاها</span></div></div>
<div class="c" style="left:1341px;top:161px;width:37px;height:36px;background:#420000;font-size:12.5px;color:#fff;line-height:15.0px;-webkit-text-stroke:0.15px #fff;"><div><span class="s" style="font-size:11.9px">سفا...</span></div></div>
<div class="c" style="left:1379px;top:79px;width:36px;height:32px;background:#7c0004;font-size:12.5px;color:#fff;line-height:15.0px;-webkit-text-stroke:0.15px #fff;"><div><span class="s" style="font-size:11.9px">سبزوا</span></div></div>
<div class="c" style="left:1416px;top:79px;width:35px;height:32px;background:#7c0004;font-size:12.5px;color:#fff;line-height:15.0px;-webkit-text-stroke:0.15px #fff;"><div><span class="s" style="font-size:11.9px">سآ...</span></div></div>
<div class="c" style="left:1452px;top:79px;width:26px;height:32px;background:#044a00;"></div>
<div class="c" style="left:1379px;top:112px;width:28px;height:30px;background:#d80010;"></div>
<div class="c" style="left:1408px;top:112px;width:24px;height:30px;background:#420000;"></div>
<div class="c" style="left:1433px;top:112px;width:23px;height:30px;background:#044a00;"></div>
<div class="c" style="left:1457px;top:112px;width:21px;height:30px;background:#7c0004;"></div>
<div class="c" style="left:1379px;top:143px;width:28px;height:27px;background:#420000;"></div>
<div class="c" style="left:1379px;top:171px;width:28px;height:26px;background:#044a00;"></div>
<div class="c" style="left:1408px;top:143px;width:20px;height:30px;background:#420000;"></div>
<div class="c" style="left:1408px;top:174px;width:20px;height:23px;background:#044a00;"></div>
<div class="c" style="left:1429px;top:143px;width:16px;height:20px;background:#33ff00;"></div>
<div class="c" style="left:1429px;top:164px;width:16px;height:17px;background:#420000;"></div>
<div class="c" style="left:1429px;top:182px;width:16px;height:15px;background:#044a00;"></div>
<div class="c" style="left:1446px;top:143px;width:15px;height:20px;background:#420000;"></div>
<div class="c" style="left:1462px;top:143px;width:16px;height:20px;background:#7c0004;"></div>
<div class="c" style="left:1446px;top:164px;width:16px;height:12px;background:#420000;"></div>
<div class="c" style="left:1463px;top:164px;width:15px;height:12px;background:#420000;"></div>
<div class="c" style="left:1446px;top:177px;width:14px;height:11px;background:#33ff00;"></div>
<div class="c" style="left:1461px;top:177px;width:9px;height:11px;background:#420000;"></div>
<div class="c" style="left:1471px;top:177px;width:7px;height:11px;background:#1e7800;"></div>
<div class="c" style="left:1446px;top:189px;width:14px;height:8px;background:#1e7800;"></div>
<div class="c" style="left:1461px;top:189px;width:8px;height:8px;background:#1e7800;"></div>
<div class="c" style="left:1470px;top:189px;width:6px;height:8px;background:#7c0004;"></div>
<div class="c" style="left:1477px;top:189px;width:1px;height:8px;background:#420000;"></div>
<div class="c" style="left:1481px;top:32px;width:166px;height:165px;background:#d80010;font-size:26px;color:#fff;line-height:28.5px;-webkit-text-stroke:0.31px #fff;"><div class="t2"><span class="s" style="font-size:24.7px">شبندر</span><br><span class="p">-3.35%</span></div></div>
<div class="c" style="left:1648px;top:32px;width:31px;height:62px;background:#7c0004;"></div>
<div class="c" style="left:1648px;top:95px;width:31px;height:56px;background:#ae000c;"></div>
<div class="c" style="left:1648px;top:152px;width:31px;height:35px;background:#33ff00;"></div>
<div class="c" style="left:1648px;top:188px;width:18px;height:9px;background:#ae000c;"></div>
<div class="c" style="left:1667px;top:188px;width:12px;height:9px;background:#ae000c;"></div>
<div class="c" style="left:1682px;top:32px;width:127px;height:91px;background:#ae000c;font-size:12px;color:#fff;line-height:14.5px;-webkit-text-stroke:0.15px #fff;"><div class="t2"><span class="s" style="font-size:11.4px">حكشتي</span><br><span class="p">-2.2%</span></div></div>
<div class="c" style="left:1682px;top:124px;width:127px;height:73px;background:#20a800;font-size:9px;color:#fff;line-height:11.5px;-webkit-text-stroke:0.15px #fff;"><div class="t2"><span class="s" style="font-size:8.5px">توريل</span><br><span class="p">2.79%</span></div></div>
<div class="c" style="left:1810px;top:32px;width:67px;height:78px;background:#7c0004;font-size:4.8px;color:#fff;line-height:5.8px;"><div class="t2"><span class="s" style="font-size:4.6px">حتايد</span><br><span class="p">-1.07%</span></div></div>
<div class="c" style="left:1810px;top:111px;width:35px;height:38px;background:#ff0010;font-size:12.5px;color:#fff;line-height:15.0px;-webkit-text-stroke:0.15px #fff;"><div><span class="s" style="font-size:11.9px">حآ...</span></div></div>
<div class="c" style="left:1846px;top:111px;width:31px;height:38px;background:#ff0010;font-size:12.5px;color:#fff;line-height:15.0px;-webkit-text-stroke:0.15px #fff;"><div><span class="s" style="font-size:11.9px">ح...</span></div></div>
<div class="c" style="left:1810px;top:150px;width:24px;height:47px;background:#420000;"></div>
<div class="c" style="left:1835px;top:150px;width:42px;height:25px;background:#044a00;font-size:12.5px;color:#fff;line-height:15.0px;-webkit-text-stroke:0.15px #fff;"><div><span class="s" style="font-size:11.9px">حگهر</span></div></div>
<div class="c" style="left:1835px;top:176px;width:22px;height:21px;background:#420000;"></div>
<div class="c" style="left:1858px;top:176px;width:19px;height:12px;background:#ae000c;"></div>
<div class="c" style="left:1858px;top:189px;width:19px;height:8px;background:#ae000c;"></div>
<div class="c" style="left:1273px;top:221px;width:57px;height:77px;background:#33ff00;font-size:4.8px;color:#000;line-height:5.8px;"><div class="t2"><span class="s" style="font-size:4.6px">وبشهر</span><br><span class="p">5.85%</span></div></div>
<div class="c" style="left:1331px;top:221px;width:48px;height:77px;background:#7c0004;font-size:4.8px;color:#fff;line-height:5.8px;"><div class="t2"><span class="s" style="font-size:4.6px">غكورش</span><br><span class="p">-1.08%</span></div></div>
<div class="c" style="left:1380px;top:221px;width:57px;height:43px;background:#33ff00;font-size:12.5px;color:#000;line-height:15.0px;-webkit-text-stroke:0.15px #000;"><div><span class="s" style="font-size:11.9px">غبآذر</span></div></div>
<div class="c" style="left:1438px;top:221px;width:45px;height:43px;background:#044a00;font-size:12.5px;color:#fff;line-height:15.0px;-webkit-text-stroke:0.15px #fff;"><div><span class="s" style="font-size:11.9px">غبشهر</span></div></div>
<div class="c" style="left:1380px;top:265px;width:53px;height:33px;background:#7c0004;font-size:12.5px;color:#fff;line-height:15.0px;-webkit-text-stroke:0.15px #fff;"><div><span class="s" style="font-size:11.9px">غديس</span></div></div>
<div class="c" style="left:1434px;top:265px;width:49px;height:33px;background:#20a800;font-size:12.5px;color:#fff;line-height:15.0px;-webkit-text-stroke:0.15px #fff;"><div><span class="s" style="font-size:11.9px">غگلپا</span></div></div>
<div class="c" style="left:1273px;top:299px;width:57px;height:73px;background:#2ad000;font-size:4.8px;color:#fff;line-height:5.8px;"><div class="t2"><span class="s" style="font-size:4.6px">غپيم</span><br><span class="p">3.9%</span></div></div>
<div class="c" style="left:1331px;top:299px;width:48px;height:73px;background:#1e7800;font-size:12.5px;color:#fff;line-height:15.0px;-webkit-text-stroke:0.15px #fff;"><div><span class="s" style="font-size:11.9px">غفارس</span></div></div>
<div class="c" style="left:1380px;top:299px;width:29px;height:41px;background:#ff0010;font-size:12.5px;color:#fff;line-height:15.0px;-webkit-text-stroke:0.15px #fff;"><div><span class="s" style="font-size:11.9px">غ...</span></div></div>
<div class="c" style="left:1380px;top:341px;width:29px;height:31px;background:#d80010;font-size:12.5px;color:#fff;line-height:15.0px;-webkit-text-stroke:0.15px #fff;"><div><span class="s" style="font-size:11.9px">غ...</span></div></div>
<div class="c" style="left:1410px;top:299px;width:26px;height:29px;background:#7c0004;"></div>
<div class="c" style="left:1437px;top:299px;width:24px;height:29px;background:#ae000c;font-size:12.5px;color:#fff;line-height:15.0px;-webkit-text-stroke:0.15px #fff;"><div><span class="s" style="font-size:11.9px">غ...</span></div></div>
<div class="c" style="left:1462px;top:299px;width:21px;height:29px;background:#ae000c;font-size:12.5px;color:#fff;line-height:15.0px;-webkit-text-stroke:0.15px #fff;"><div><span class="s" style="font-size:11.9px">آ...</span></div></div>
<div class="c" style="left:1410px;top:329px;width:23px;height:23px;background:#d80010;"></div>
<div class="c" style="left:1410px;top:353px;width:23px;height:19px;background:#d80010;"></div>
<div class="c" style="left:1434px;top:329px;width:17px;height:21px;background:#7c0004;"></div>
<div class="c" style="left:1434px;top:351px;width:17px;height:21px;background:#ff0010;"></div>
<div class="c" style="left:1452px;top:329px;width:16px;height:19px;background:#d80010;"></div>
<div class="c" style="left:1469px;top:329px;width:14px;height:19px;background:#7c0004;"></div>
<div class="c" style="left:1452px;top:349px;width:18px;height:11px;background:#420000;"></div>
<div class="c" style="left:1471px;top:349px;width:12px;height:11px;background:#d80010;"></div>
<div class="c" style="left:1452px;top:361px;width:18px;height:11px;background:#ff0010;"></div>
<div class="c" style="left:1471px;top:361px;width:12px;height:11px;background:#20a800;"></div>
<div class="c" style="left:1486px;top:221px;width:88px;height:96px;background:#1e7800;font-size:9px;color:#fff;line-height:11.5px;-webkit-text-stroke:0.15px #fff;"><div class="t2"><span class="s" style="font-size:8.5px">كسرام</span><br><span class="p">1.97%</span></div></div>
<div class="c" style="left:1575px;top:221px;width:58px;height:96px;background:#420000;font-size:6.8px;color:#fff;line-height:7.8px;"><div class="t2"><span class="s" style="font-size:6.5px">كساپا</span><br><span class="p">0%</span></div></div>
<div class="c" style="left:1486px;top:318px;width:42px;height:52px;background:#7c0004;font-size:12.5px;color:#fff;line-height:15.0px;-webkit-text-stroke:0.15px #fff;"><div><span class="s" style="font-size:11.9px">كخاك</span></div></div>
<div class="c" style="left:1529px;top:318px;width:31px;height:52px;background:#7c0004;font-size:12.5px;color:#fff;line-height:15.0px;-webkit-text-stroke:0.15px #fff;"><div><span class="s" style="font-size:11.9px">كرا...</span></div></div>
<div class="c" style="left:1561px;top:318px;width:35px;height:30px;background:#ff0010;font-size:12.5px;color:#fff;line-height:15.0px;-webkit-text-stroke:0.15px #fff;"><div><span class="s" style="font-size:11.9px">كم...</span></div></div>
<div class="c" style="left:1561px;top:349px;width:35px;height:21px;background:#044a00;"></div>
<div class="c" style="left:1597px;top:318px;width:21px;height:28px;background:#420000;"></div>
<div class="c" style="left:1619px;top:318px;width:14px;height:28px;background:#7c0004;"></div>
<div class="c" style="left:1597px;top:347px;width:14px;height:23px;background:#ae000c;"></div>
<div class="c" style="left:1612px;top:347px;width:21px;height:11px;background:#7c0004;"></div>
<div class="c" style="left:1612px;top:359px;width:21px;height:11px;background:#7c0004;"></div>
<div class="c" style="left:1637px;top:221px;width:74px;height:65px;background:#044a00;font-size:4.8px;color:#fff;line-height:5.8px;"><div class="t2"><span class="s" style="font-size:4.6px">فن افزار</span><br><span class="p">0.92%</span></div></div>
<div class="c" style="left:1712px;top:221px;width:57px;height:65px;background:#ff0010;font-size:4.8px;color:#fff;line-height:5.8px;"><div class="t2"><span class="s" style="font-size:4.6px">انتوسن</span><br><span class="p">-4.88%</span></div></div>
<div class="c" style="left:1637px;top:287px;width:63px;height:45px;background:#33ff00;font-size:12.5px;color:#000;line-height:15.0px;-webkit-text-stroke:0.15px #000;"><div><span class="s" style="font-size:11.9px">بي پاد</span></div></div>
<div class="c" style="left:1637px;top:333px;width:63px;height:37px;background:#ff0010;font-size:12.5px;color:#fff;line-height:15.0px;-webkit-text-stroke:0.15px #fff;"><div><span class="s" style="font-size:11.9px">تاپكيش</span></div></div>
<div class="c" style="left:1701px;top:287px;width:38px;height:27px;background:#ff0010;font-size:12.5px;color:#fff;line-height:15.0px;-webkit-text-stroke:0.15px #fff;"><div><span class="s" style="font-size:11.9px">پردا...</span></div></div>
<div class="c" style="left:1740px;top:287px;width:29px;height:27px;background:#7c0004;"></div>
<div class="c" style="left:1701px;top:315px;width:24px;height:30px;background:#2ad000;font-size:12.5px;color:#000;line-height:15.0px;-webkit-text-stroke:0.15px #000;"><div><span class="s" style="font-size:11.9px">ر...</span></div></div>
<div class="c" style="left:1701px;top:346px;width:24px;height:24px;background:#7c0004;"></div>
<div class="c" style="left:1726px;top:315px;width:24px;height:25px;background:#ff0010;font-size:12.5px;color:#fff;line-height:15.0px;-webkit-text-stroke:0.15px #fff;"><div><span class="s" style="font-size:11.9px">افرا</span></div></div>
<div class="c" style="left:1751px;top:315px;width:18px;height:25px;background:#20a800;"></div>
<div class="c" style="left:1726px;top:341px;width:24px;height:14px;background:#420000;"></div>
<div class="c" style="left:1726px;top:356px;width:24px;height:14px;background:#420000;"></div>
<div class="c" style="left:1751px;top:341px;width:18px;height:19px;background:#ff0010;"></div>
<div class="c" style="left:1751px;top:361px;width:10px;height:9px;background:#ff0010;"></div>
<div class="c" style="left:1762px;top:361px;width:7px;height:9px;background:#ae000c;"></div>
<div class="c" style="left:1772px;top:221px;width:105px;height:83px;background:#ff0010;font-size:9px;color:#fff;line-height:11.5px;-webkit-text-stroke:0.15px #fff;"><div class="t2"><span class="s" style="font-size:8.5px">معين</span><br><span class="p">-4.72%</span></div></div>
<div class="c" style="left:1772px;top:305px;width:74px;height:65px;background:#33ff00;font-size:4.8px;color:#000;line-height:5.8px;"><div class="t2"><span class="s" style="font-size:4.6px">وبيمه</span><br><span class="p">5.95%</span></div></div>
<div class="c" style="left:1847px;top:305px;width:30px;height:21px;background:#7c0004;"></div>
<div class="c" style="left:1847px;top:327px;width:30px;height:19px;background:#d80010;"></div>
<div class="c" style="left:1847px;top:347px;width:21px;height:23px;background:#ff0010;font-size:12.5px;color:#fff;line-height:15.0px;-webkit-text-stroke:0.15px #fff;"><div><span class="s" style="font-size:11.9px">ا...</span></div></div>
<div class="c" style="left:1869px;top:347px;width:8px;height:10px;background:#ff0010;"></div>
<div class="c" style="left:1869px;top:358px;width:8px;height:7px;background:#7c0004;"></div>
<div class="c" style="left:1869px;top:366px;width:8px;height:4px;background:#420000;"></div>
<div class="c" style="left:1273px;top:395px;width:102px;height:140px;background:#33ff00;font-size:15px;color:#000;line-height:17.5px;-webkit-text-stroke:0.15px #000;"><div class="t2"><span class="s" style="font-size:14.2px">زماهان</span><br><span class="p">5.97%</span></div></div>
<div class="c" style="left:1376px;top:395px;width:63px;height:66px;background:#ff0010;font-size:4.8px;color:#fff;line-height:5.8px;"><div class="t2"><span class="s" style="font-size:4.6px">زشريف</span><br><span class="p">-4.93%</span></div></div>
<div class="c" style="left:1440px;top:395px;width:43px;height:66px;background:#33ff00;font-size:12.5px;color:#000;line-height:15.0px;-webkit-text-stroke:0.15px #000;"><div><span class="s" style="font-size:11.9px">زملارد</span></div></div>
<div class="c" style="left:1376px;top:462px;width:30px;height:39px;background:#7c0004;font-size:12.5px;color:#fff;line-height:15.0px;-webkit-text-stroke:0.15px #fff;"><div><span class="s" style="font-size:11.9px">ز...</span></div></div>
<div class="c" style="left:1407px;top:462px;width:27px;height:36px;background:#420000;font-size:12.5px;color:#fff;line-height:15.0px;-webkit-text-stroke:0.15px #fff;"><div><span class="s" style="font-size:11.9px">ز...</span></div></div>
<div class="c" style="left:1435px;top:462px;width:24px;height:40px;background:#420000;font-size:12.5px;color:#fff;line-height:15.0px;-webkit-text-stroke:0.15px #fff;"><div><span class="s" style="font-size:11.9px">ز...</span></div></div>
<div class="c" style="left:1460px;top:462px;width:23px;height:40px;background:#7c0004;"></div>
<div class="c" style="left:1376px;top:502px;width:30px;height:33px;background:#420000;font-size:12.5px;color:#fff;line-height:15.0px;-webkit-text-stroke:0.15px #fff;"><div><span class="s" style="font-size:11.9px">ز...</span></div></div>
<div class="c" style="left:1407px;top:499px;width:27px;height:36px;background:#ff0010;font-size:12.5px;color:#fff;line-height:15.0px;-webkit-text-stroke:0.15px #fff;"><div><span class="s" style="font-size:11.9px">زفكا</span></div></div>
<div class="c" style="left:1435px;top:503px;width:20px;height:32px;background:#7c0004;"></div>
<div class="c" style="left:1456px;top:503px;width:27px;height:22px;background:#ae000c;font-size:12.5px;color:#fff;line-height:15.0px;-webkit-text-stroke:0.15px #fff;"><div><span class="s" style="font-size:11.9px">ز...</span></div></div>
<div class="c" style="left:1456px;top:526px;width:18px;height:9px;background:#420000;"></div>
<div class="c" style="left:1475px;top:526px;width:8px;height:9px;background:#ff0010;"></div>
<div class="c" style="left:1486px;top:394px;width:69px;height:95px;background:#ae000c;font-size:6.8px;color:#fff;line-height:7.8px;"><div class="t2"><span class="s" style="font-size:6.5px">پكرمان</span><br><span class="p">-2.24%</span></div></div>
<div class="c" style="left:1556px;top:394px;width:57px;height:54px;background:#ff0010;font-size:12.5px;color:#fff;line-height:15.0px;-webkit-text-stroke:0.15px #fff;"><div><span class="s" style="font-size:11.9px">پتاير</span></div></div>
<div class="c" style="left:1556px;top:449px;width:33px;height:40px;background:#044a00;font-size:12.5px;color:#fff;line-height:15.0px;-webkit-text-stroke:0.15px #fff;"><div><span class="s" style="font-size:11.9px">پلا...</span></div></div>
<div class="c" style="left:1590px;top:449px;width:23px;height:25px;background:#7c0004;"></div>
<div class="c" style="left:1590px;top:475px;width:10px;height:14px;background:#420000;"></div>
<div class="c" style="left:1601px;top:475px;width:12px;height:5px;background:#7c0004;"></div>
<div class="c" style="left:1601px;top:481px;width:12px;height:8px;background:#420000;"></div>
<div class="c" style="left:1617px;top:394px;width:52px;height:48px;background:#33ff00;font-size:12.5px;color:#000;line-height:15.0px;-webkit-text-stroke:0.15px #000;"><div><span class="s" style="font-size:11.9px">ولكار</span></div></div>
<div class="c" style="left:1617px;top:443px;width:52px;height:30px;background:#2ad000;font-size:12.5px;color:#000;line-height:15.0px;-webkit-text-stroke:0.15px #000;"><div><span class="s" style="font-size:11.9px">وايران</span></div></div>
<div class="c" style="left:1670px;top:394px;width:22px;height:36px;background:#ae000c;"></div>
<div class="c" style="left:1693px;top:394px;width:19px;height:36px;background:#ff0010;"></div>
<div class="c" style="left:1670px;top:431px;width:22px;height:18px;background:#d80010;"></div>
<div class="c" style="left:1693px;top:431px;width:19px;height:18px;background:#420000;"></div>
<div class="c" style="left:1670px;top:450px;width:14px;height:23px;background:#ae000c;"></div>
<div class="c" style="left:1685px;top:450px;width:11px;height:23px;background:#7c0004;"></div>
<div class="c" style="left:1697px;top:450px;width:15px;height:17px;background:#7c0004;"></div>
<div class="c" style="left:1697px;top:468px;width:15px;height:5px;background:#ae000c;"></div>
<div class="c" style="left:1715px;top:394px;width:44px;height:51px;background:#1e7800;font-size:12.5px;color:#fff;line-height:15.0px;-webkit-text-stroke:0.15px #fff;"><div><span class="s" style="font-size:11.9px">تايرا</span></div></div>
<div class="c" style="left:1715px;top:446px;width:44px;height:27px;background:#044a00;font-size:12.5px;color:#fff;line-height:15.0px;-webkit-text-stroke:0.15px #fff;"><div><span class="s" style="font-size:11.9px">لابسا</span></div></div>
<div class="c" style="left:1760px;top:394px;width:36px;height:27px;background:#044a00;font-size:12.5px;color:#fff;line-height:15.0px;-webkit-text-stroke:0.15px #fff;"><div><span class="s" style="font-size:11.9px">انتخ...</span></div></div>
<div class="c" style="left:1760px;top:422px;width:36px;height:26px;background:#7c0004;font-size:12.5px;color:#fff;line-height:15.0px;-webkit-text-stroke:0.15px #fff;"><div><span class="s" style="font-size:11.9px">گلديرا</span></div></div>
<div class="c" style="left:1760px;top:449px;width:20px;height:24px;background:#7c0004;"></div>
<div class="c" style="left:1781px;top:449px;width:15px;height:20px;background:#33ff00;"></div>
<div class="c" style="left:1781px;top:470px;width:15px;height:3px;background:#ff0010;"></div>
<div class="c" style="left:1800px;top:394px;width:77px;height:79px;background:#420000;font-size:6.8px;color:#fff;line-height:7.8px;"><div class="t2"><span class="s" style="font-size:6.5px">اسياتك</span><br><span class="p">0%</span></div></div>
<div class="c" style="left:1273px;top:559px;width:63px;height:71px;background:#d80010;font-size:4.8px;color:#fff;line-height:5.8px;"><div class="t2"><span class="s" style="font-size:4.6px">دامين</span><br><span class="p">-3.08%</span></div></div>
<div class="c" style="left:1273px;top:631px;width:63px;height:52px;background:#33ff00;font-size:12.5px;color:#000;line-height:15.0px;-webkit-text-stroke:0.15px #000;"><div><span class="s" style="font-size:11.9px">داوه</span></div></div>
<div class="c" style="left:1337px;top:559px;width:49px;height:55px;background:#d80010;font-size:12.5px;color:#fff;line-height:15.0px;-webkit-text-stroke:0.15px #fff;"><div><span class="s" style="font-size:11.9px">ديران</span></div></div>
<div class="c" style="left:1337px;top:615px;width:49px;height:38px;background:#ff0010;font-size:12.5px;color:#fff;line-height:15.0px;-webkit-text-stroke:0.15px #fff;"><div><span class="s" style="font-size:11.9px">دكوثر</span></div></div>
<div class="c" style="left:1337px;top:654px;width:49px;height:29px;background:#ae000c;font-size:12.5px;color:#fff;line-height:15.0px;-webkit-text-stroke:0.15px #fff;"><div><span class="s" style="font-size:11.9px">بركت</span></div></div>
<div class="c" style="left:1387px;top:559px;width:35px;height:27px;background:#7c0004;font-size:12.5px;color:#fff;line-height:15.0px;-webkit-text-stroke:0.15px #fff;"><div><span class="s" style="font-size:11.9px">تي...</span></div></div>
<div class="c" style="left:1423px;top:559px;width:31px;height:27px;background:#7c0004;font-size:12.5px;color:#fff;line-height:15.0px;-webkit-text-stroke:0.15px #fff;"><div><span class="s" style="font-size:11.9px">ري...</span></div></div>
<div class="c" style="left:1455px;top:559px;width:28px;height:27px;background:#7c0004;font-size:12.5px;color:#fff;line-height:15.0px;-webkit-text-stroke:0.15px #fff;"><div><span class="s" style="font-size:11.9px">د...</span></div></div>
<div class="c" style="left:1387px;top:587px;width:27px;height:28px;background:#420000;"></div>
<div class="c" style="left:1415px;top:587px;width:24px;height:28px;background:#420000;"></div>
<div class="c" style="left:1440px;top:587px;width:23px;height:28px;background:#ae000c;"></div>
<div class="c" style="left:1464px;top:587px;width:19px;height:28px;background:#420000;"></div>
<div class="c" style="left:1387px;top:616px;width:22px;height:25px;background:#d80010;"></div>
<div class="c" style="left:1387px;top:642px;width:22px;height:21px;background:#ff0010;"></div>
<div class="c" style="left:1387px;top:664px;width:22px;height:19px;background:#d80010;"></div>
<div class="c" style="left:1410px;top:616px;width:20px;height:18px;background:#7c0004;"></div>
<div class="c" style="left:1410px;top:635px;width:20px;height:17px;background:#ff0010;"></div>
<div class="c" style="left:1410px;top:653px;width:20px;height:15px;background:#044a00;"></div>
<div class="c" style="left:1410px;top:669px;width:20px;height:14px;background:#420000;"></div>
<div class="c" style="left:1431px;top:616px;width:18px;height:18px;background:#ff0010;"></div>
<div class="c" style="left:1450px;top:616px;width:16px;height:18px;background:#ae000c;"></div>
<div class="c" style="left:1467px;top:616px;width:16px;height:18px;background:#ff0010;"></div>
<div class="c" style="left:1431px;top:635px;width:15px;height:17px;background:#20a800;"></div>
<div class="c" style="left:1431px;top:653px;width:15px;height:16px;background:#7c0004;"></div>
<div class="c" style="left:1431px;top:670px;width:15px;height:13px;background:#ae000c;"></div>
<div class="c" style="left:1447px;top:635px;width:12px;height:14px;background:#ae000c;"></div>
<div class="c" style="left:1460px;top:635px;width:11px;height:14px;background:#ff0010;"></div>
<div class="c" style="left:1472px;top:635px;width:11px;height:14px;background:#7c0004;"></div>
<div class="c" style="left:1447px;top:650px;width:12px;height:11px;background:#044a00;"></div>
<div class="c" style="left:1447px;top:662px;width:12px;height:12px;background:#ae000c;"></div>
<div class="c" style="left:1447px;top:675px;width:12px;height:8px;background:#ae000c;"></div>
<div class="c" style="left:1460px;top:650px;width:12px;height:9px;background:#7c0004;"></div>
<div class="c" style="left:1473px;top:650px;width:10px;height:9px;background:#7c0004;"></div>
<div class="c" style="left:1460px;top:660px;width:12px;height:8px;background:#420000;"></div>
<div class="c" style="left:1473px;top:660px;width:10px;height:8px;background:#7c0004;"></div>
<div class="c" style="left:1460px;top:669px;width:9px;height:7px;background:#7c0004;"></div>
<div class="c" style="left:1470px;top:669px;width:6px;height:7px;background:#ae000c;"></div>
<div class="c" style="left:1477px;top:669px;width:6px;height:7px;background:#ae000c;"></div>
<div class="c" style="left:1460px;top:677px;width:9px;height:6px;background:#ff0010;"></div>
<div class="c" style="left:1470px;top:677px;width:4px;height:6px;background:#ae000c;"></div>
<div class="c" style="left:1475px;top:677px;width:3px;height:6px;background:#ff0010;"></div>
<div class="c" style="left:1479px;top:677px;width:4px;height:6px;background:#420000;"></div>
<div class="c" style="left:1486px;top:513px;width:120px;height:87px;background:#20a800;font-size:12.5px;color:#fff;line-height:15.0px;-webkit-text-stroke:0.15px #fff;"><div class="t2"><span class="s" style="font-size:11.9px">آباد</span><br><span class="p">2.97%</span></div></div>
<div class="c" style="left:1607px;top:513px;width:6px;height:87px;background:#ff0010;"></div>
<div class="c" style="left:1617px;top:497px;width:39px;height:33px;background:#7c0004;font-size:12.5px;color:#fff;line-height:15.0px;-webkit-text-stroke:0.15px #fff;"><div><span class="s" style="font-size:11.9px">قثابت</span></div></div>
<div class="c" style="left:1657px;top:497px;width:30px;height:33px;background:#33ff00;font-size:12.5px;color:#000;line-height:15.0px;-webkit-text-stroke:0.15px #000;"><div><span class="s" style="font-size:11.9px">ق...</span></div></div>
<div class="c" style="left:1617px;top:531px;width:31px;height:29px;background:#420000;font-size:12.5px;color:#fff;line-height:15.0px;-webkit-text-stroke:0.15px #fff;"><div><span class="s" style="font-size:11.9px">ق...</span></div></div>
<div class="c" style="left:1617px;top:561px;width:31px;height:24px;background:#20a800;font-size:12.5px;color:#fff;line-height:15.0px;-webkit-text-stroke:0.15px #fff;"><div><span class="s" style="font-size:11.9px">قمرو</span></div></div>
<div class="c" style="left:1649px;top:531px;width:19px;height:38px;background:#420000;"></div>
<div class="c" style="left:1669px;top:531px;width:18px;height:38px;background:#1e7800;"></div>
<div class="c" style="left:1649px;top:570px;width:18px;height:15px;background:#044a00;"></div>
<div class="c" style="left:1668px;top:570px;width:8px;height:15px;background:#ff0010;"></div>
<div class="c" style="left:1677px;top:570px;width:10px;height:7px;background:#420000;"></div>
<div class="c" style="left:1677px;top:578px;width:10px;height:7px;background:#7c0004;"></div>
<div class="c" style="left:1691px;top:497px;width:32px;height:48px;background:#7c0004;font-size:12.5px;color:#fff;line-height:15.0px;-webkit-text-stroke:0.15px #fff;"><div><span class="s" style="font-size:11.9px">مبين</span></div></div>
<div class="c" style="left:1724px;top:497px;width:23px;height:25px;background:#ae000c;"></div>
<div class="c" style="left:1724px;top:523px;width:23px;height:22px;background:#420000;"></div>
<div class="c" style="left:1748px;top:497px;width:22px;height:23px;background:#ae000c;"></div>
<div class="c" style="left:1771px;top:497px;width:14px;height:23px;background:#420000;"></div>
<div class="c" style="left:1748px;top:521px;width:22px;height:14px;background:#ae000c;"></div>
<div class="c" style="left:1748px;top:536px;width:22px;height:9px;background:#ae000c;"></div>
<div class="c" style="left:1771px;top:521px;width:14px;height:11px;background:#20a800;"></div>
<div class="c" style="left:1771px;top:533px;width:6px;height:12px;background:#ae000c;"></div>
<div class="c" style="left:1778px;top:533px;width:7px;height:7px;background:#420000;"></div>
<div class="c" style="left:1778px;top:541px;width:7px;height:4px;background:#ff0010;"></div>
<div class="c" style="left:1486px;top:624px;width:78px;height:59px;background:#044a00;font-size:4.8px;color:#fff;line-height:5.8px;"><div class="t2"><span class="s" style="font-size:4.6px">نيان</span><br><span class="p">0.83%</span></div></div>
<div class="c" style="left:1565px;top:624px;width:48px;height:59px;background:#ff0010;font-size:12.5px;color:#fff;line-height:15.0px;-webkit-text-stroke:0.15px #fff;"><div><span class="s" style="font-size:11.9px">ماديرا</span></div></div>
<div class="c" style="left:1617px;top:608px;width:70px;height:58px;background:#044a00;font-size:4.8px;color:#fff;line-height:5.8px;"><div class="t2"><span class="s" style="font-size:4.6px">افق</span><br><span class="p">0.05%</span></div></div>
<div class="c" style="left:1617px;top:667px;width:70px;height:16px;background:#33ff00;"></div>
<div class="c" style="left:1788px;top:497px;width:37px;height:48px;background:#ae000c;font-size:12.5px;color:#fff;line-height:15.0px;-webkit-text-stroke:0.15px #fff;"><div><span class="s" style="font-size:11.9px">بترا...</span></div></div>
<div class="c" style="left:1826px;top:497px;width:24px;height:27px;background:#7c0004;"></div>
<div class="c" style="left:1826px;top:525px;width:24px;height:20px;background:#7c0004;"></div>
<div class="c" style="left:1851px;top:497px;width:26px;height:16px;background:#ae000c;"></div>
<div class="c" style="left:1851px;top:514px;width:26px;height:15px;background:#420000;"></div>
<div class="c" style="left:1851px;top:530px;width:22px;height:15px;background:#ff0010;"></div>
<div class="c" style="left:1874px;top:530px;width:3px;height:15px;background:#ff0010;"></div>
<div class="c" style="left:1691px;top:569px;width:61px;height:61px;background:#d80010;font-size:4.8px;color:#fff;line-height:5.8px;"><div class="t2"><span class="s" style="font-size:4.6px">كطبس</span><br><span class="p">-3.88%</span></div></div>
<div class="c" style="left:1753px;top:569px;width:3px;height:61px;background:#ae000c;"></div>
<div class="c" style="left:1760px;top:569px;width:53px;height:32px;background:#d80010;font-size:12.5px;color:#fff;line-height:15.0px;-webkit-text-stroke:0.15px #fff;"><div><span class="s" style="font-size:11.9px">فاراك</span></div></div>
<div class="c" style="left:1814px;top:569px;width:7px;height:21px;background:#7c0004;"></div>
<div class="c" style="left:1814px;top:591px;width:7px;height:10px;background:#ae000c;"></div>
<div class="c" style="left:1824px;top:569px;width:53px;height:32px;background:#d80010;font-size:12.5px;color:#fff;line-height:15.0px;-webkit-text-stroke:0.15px #fff;"><div><span class="s" style="font-size:11.9px">وملي</span></div></div>
<div class="c" style="left:1760px;top:625px;width:38px;height:26px;background:#1e7800;font-size:12.5px;color:#fff;line-height:15.0px;-webkit-text-stroke:0.15px #fff;"><div><span class="s" style="font-size:11.9px">كلوند</span></div></div>
<div class="c" style="left:1799px;top:625px;width:16px;height:12px;background:#ae000c;"></div>
<div class="c" style="left:1799px;top:638px;width:10px;height:13px;background:#044a00;"></div>
<div class="c" style="left:1810px;top:638px;width:5px;height:13px;background:#ff0010;"></div>
<div class="c" style="left:1819px;top:625px;width:14px;height:24px;background:#ff0010;"></div>
<div class="c" style="left:1834px;top:625px;width:13px;height:14px;background:#7c0004;"></div>
<div class="c" style="left:1834px;top:640px;width:6px;height:9px;background:#044a00;"></div>
<div class="c" style="left:1841px;top:640px;width:6px;height:9px;background:#7c0004;"></div>
<div class="c" style="left:1851px;top:625px;width:26px;height:24px;background:#33ff00;font-size:12.5px;color:#000;line-height:15.0px;-webkit-text-stroke:0.15px #000;"><div><span class="s" style="font-size:11.9px">با...</span></div></div>
<div class="c" style="left:1691px;top:653px;width:49px;height:30px;background:#ae000c;font-size:12.5px;color:#fff;line-height:15.0px;-webkit-text-stroke:0.15px #fff;"><div><span class="s" style="font-size:11.9px">چكاپا</span></div></div>
<div class="c" style="left:1741px;top:653px;width:15px;height:22px;background:#420000;"></div>
<div class="c" style="left:1741px;top:676px;width:15px;height:7px;background:#420000;"></div>
<div class="c" style="left:1760px;top:675px;width:40px;height:8px;background:#ff0010;"></div>
<div class="c" style="left:1801px;top:675px;width:14px;height:8px;background:#ae000c;"></div>
<div class="c" style="left:1819px;top:672px;width:26px;height:11px;background:#420000;"></div>
<div class="c" style="left:1849px;top:672px;width:18px;height:1px;background:#ae000c;"></div>
<div class="c" style="left:1868px;top:672px;width:9px;height:1px;background:#ae000c;"></div>
</body></html>
